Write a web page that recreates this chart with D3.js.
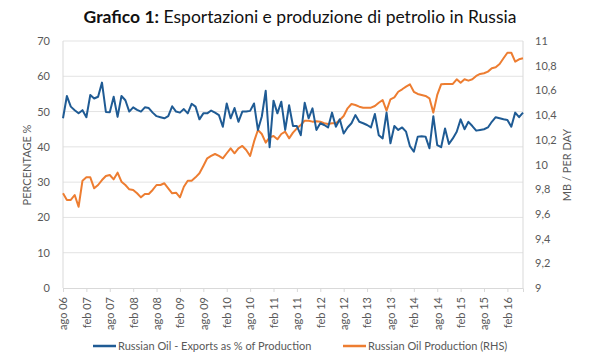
<!DOCTYPE html>
<html><head><meta charset="utf-8">
<script src="https://cdn.jsdelivr.net/npm/d3@7/dist/d3.min.js"></script>
<style>body{margin:0;background:#fff}svg{display:block}</style>
</head><body>
<svg id="c" width="600" height="360"></svg>
<script>
const exportsPct = [48.1,54.4,51.4,50.4,49.5,50.4,48.4,54.7,53.7,54.2,
 58.2,49.9,49.8,54.2,48.5,54.4,53.2,50,51.2,50.5,
 50,51.2,51,49.7,48.7,48.4,48.1,48.7,51.5,50,
 49.7,50.7,49.5,52.2,51.4,47.8,49.5,49.5,50.3,49.7,
 49,45.7,52.3,48.1,51,47.1,50,50,50.2,52.3,
 44.8,48.6,55.9,39.9,53.1,49.5,52.8,
 44.8,51.8,45.9,45.9,43.3,52.5,48.1,50.9,44.8,46.7,
 46.2,45.5,49.7,45.7,47.8,43.8,45.5,46.7,49,47.1,
 46.7,46.2,45.5,49.3,43.3,42.4,49.7,41,45.9,44.8,
 45.5,44.3,40.2,38.6,42.9,43,42.9,39.6,48.7,40.5,
 39.9,45.2,40.8,42.4,44.3,47.8,45,47.1,45.9,44.6,
 44.8,45,45.5,47.1,48.4,48.1,47.8,47.6,45.7,49.7,
 48.4,49.7];
const production = [9.767,9.713,9.713,9.753,9.658,9.869,9.896,9.896,9.807,9.834,
 9.874,9.907,9.915,9.880,9.934,9.861,9.834,9.799,9.794,9.767,
 9.734,9.761,9.761,9.794,9.834,9.834,9.848,9.807,9.767,9.772,
 9.734,9.820,9.869,9.869,9.896,9.929,9.988,10.050,10.069,10.085,
 10.069,10.050,10.091,10.131,10.091,10.131,10.150,10.117,10.069,10.185,
 10.279,10.247,10.177,10.220,10.231,10.204,10.247,10.266,
 10.212,10.258,10.293,10.320,10.355,10.355,10.347,10.350,10.347,10.334,
 10.328,10.334,10.334,10.360,10.393,10.455,10.490,10.482,10.468,10.460,
 10.460,10.460,10.474,10.500,10.522,10.436,10.528,10.544,10.589,10.609,
 10.630,10.649,10.589,10.571,10.563,10.555,10.536,10.420,10.563,10.649,
 10.652,10.652,10.652,10.690,10.662,10.690,10.679,10.690,10.717,10.733,
 10.739,10.752,10.779,10.787,10.814,10.860,10.905,10.905,10.833,10.852,
 10.860];
const tickLabels = ["ago 06","feb 07","ago 07","feb 08","ago 08","feb 09","ago 09","feb 10","ago 10","feb 11","ago 11","feb 12","ago 12","feb 13","ago 13","feb 14","ago 14","feb 15","ago 15","feb 16"];
const leftTicks = [0,10,20,30,40,50,60,70];
const rightTicks = [9,9.2,9.4,9.6,9.8,10,10.2,10.4,10.6,10.8,11];
const seriesNames = ["Russian Oil - Exports as % of Production","Russian Oil Production (RHS)"];
const colors = ["#1f5b94","#ed7d31"];

const svg = d3.select("#c");
const L = 63, R = 523, T = 41, B = 288;
const n = exportsPct.length;
const x = d3.scaleLinear().domain([0, n-1]).range([L, R]);
const yL = d3.scaleLinear().domain([0,70]).range([B, T]);
const yR = d3.scaleLinear().domain([9,11]).range([B, T]);
const font = "Lato, 'Open Sans', sans-serif";
const gray = "#595959";

// title
svg.append("text").attr("x",300).attr("y",23).attr("text-anchor","middle")
 .attr("font-family",font).attr("font-size",17.5).attr("fill","#111")
 .call(t=>{t.append("tspan").attr("font-weight","bold").text("Grafico 1:");
           t.append("tspan").text(" Esportazioni e produzione di petrolio in Russia");});

// gridlines
svg.append("g").selectAll("line").data(leftTicks.slice(1)).join("line")
 .attr("x1",L).attr("x2",R).attr("y1",d=>yL(d)).attr("y2",d=>yL(d))
 .attr("stroke","#e3e3e3").attr("stroke-width",1);
// vertical frame lines
svg.append("line").attr("x1",L).attr("x2",L).attr("y1",T).attr("y2",B).attr("stroke","#d9d9d9");
svg.append("line").attr("x1",R).attr("x2",R).attr("y1",T).attr("y2",B).attr("stroke","#d9d9d9");

// left axis
const gl = svg.append("g").attr("transform",`translate(${L},0)`)
 .call(d3.axisLeft(yL).tickValues(leftTicks).tickSize(0).tickPadding(13));
gl.select(".domain").remove();
gl.selectAll("text").attr("font-family",font).attr("font-size",11).attr("fill",gray);

// right axis
const gr = svg.append("g").attr("transform",`translate(${R},0)`)
 .call(d3.axisRight(yR).tickValues(rightTicks).tickSize(0).tickPadding(12)
   .tickFormat(d=>String(+d.toFixed(1)).replace(".",",")));
gr.select(".domain").remove();
gr.selectAll("text").attr("font-family",font).attr("font-size",11).attr("fill",gray);

// bottom axis
const xt = tickLabels.map((d,i)=>i*6);
const gx = svg.append("g").attr("transform",`translate(0,${B})`)
 .call(d3.axisBottom(x).tickValues(xt).tickSize(4).tickFormat((d,i)=>tickLabels[i]));
gx.select(".domain").attr("stroke","#d9d9d9");
gx.selectAll("line").attr("stroke","#d9d9d9");
gx.selectAll("text").attr("font-family",font).attr("font-size",11).attr("fill",gray)
 .attr("transform","rotate(-90)").attr("text-anchor","end")
 .attr("x",-9).attr("y",0).attr("dy","0.35em");

// axis titles
svg.append("text").attr("transform","translate(31,165) rotate(-90)").attr("text-anchor","middle")
 .attr("font-family",font).attr("font-size",11).attr("fill",gray).text("PERCENTAGE %");
svg.append("text").attr("transform","translate(571,165) rotate(-90)").attr("text-anchor","middle")
 .attr("font-family",font).attr("font-size",11).attr("fill",gray).text("MB / PER DAY");

// lines
const lineL = d3.line().x((d,i)=>x(i)).y(d=>yL(d));
const lineR = d3.line().x((d,i)=>x(i)).y(d=>yR(d));
svg.append("path").datum(production).attr("d",lineR).attr("fill","none")
 .attr("stroke",colors[1]).attr("stroke-width",2).attr("stroke-linejoin","round");
svg.append("path").datum(exportsPct).attr("d",lineL).attr("fill","none")
 .attr("stroke",colors[0]).attr("stroke-width",2).attr("stroke-linejoin","round");

// legend
const lg = svg.append("g");
const lx = [93, 343];
seriesNames.forEach((s,i)=>{
  lg.append("line").attr("x1",lx[i]).attr("x2",lx[i]+23).attr("y1",346).attr("y2",346)
    .attr("stroke",colors[i]).attr("stroke-width",2.5);
  lg.append("text").attr("x",lx[i]+25).attr("y",350).attr("font-family",font)
    .attr("font-size",11).attr("fill",gray).text(s);
});
</script>
</body></html>
